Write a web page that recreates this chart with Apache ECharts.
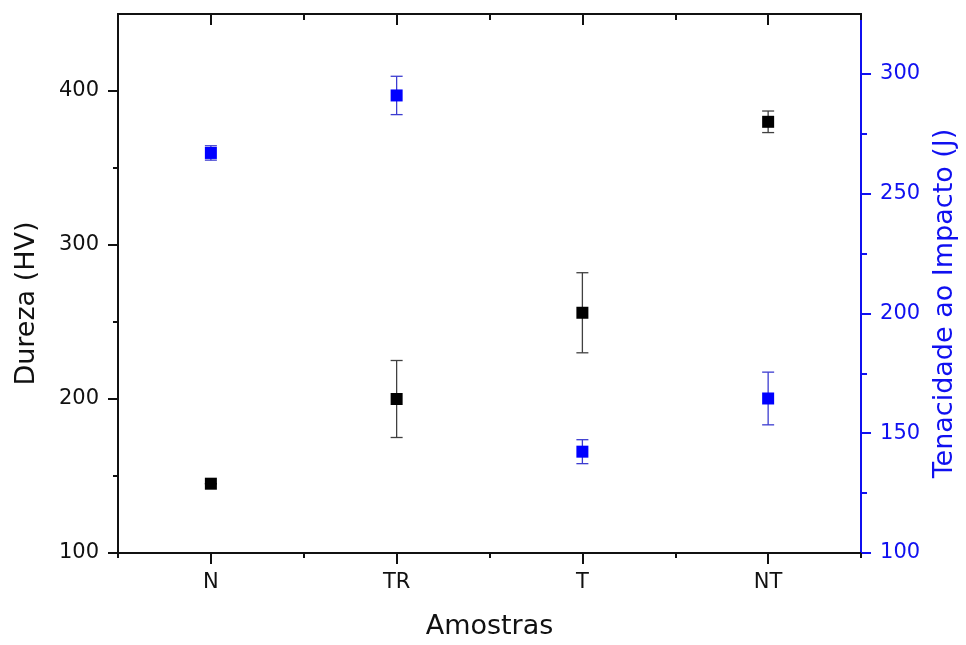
<!DOCTYPE html>
<html>
<head>
<meta charset="utf-8">
<script src="https://cdn.jsdelivr.net/npm/echarts@6/dist/echarts.min.js"></script>
<style>html,body{margin:0;padding:0;background:#fff;}#c{width:966px;height:645px;}</style>
</head>
<body>
<div id="c"></div>
<script>
const categories = ['N', 'TR', 'T', 'NT'];
const durezaMean = [145, 200, 256, 380];
const durezaErr = [0, 25, 26, 7];
const tenacidadeMean = [267, 291, 142.3, 164.5];
const tenacidadeErr = [3, 8, 5, 11];
const leftTicks = [100, 200, 300, 400];
const rightTicks = [100, 150, 200, 250, 300];

const FONT = 'DejaVu Sans';
const BLACK = '#111111';
const BLUE = '#1010f0';

const chart = echarts.init(document.getElementById('c'), null, {renderer: 'canvas'});

function errData(mean, err) {
  return mean.map((m, i) => [categories[i], m - err[i], m + err[i]]);
}
function errRender(color) {
  return function (params, api) {
    const x = api.value(0);
    const lo = api.coord([x, api.value(1)]);
    const hi = api.coord([x, api.value(2)]);
    const w = 6;
    const style = {stroke: color, lineWidth: 1.3};
    return {
      type: 'group',
      children: [
        {type: 'line', shape: {x1: lo[0], y1: lo[1], x2: hi[0], y2: hi[1]}, style},
        {type: 'line', shape: {x1: lo[0] - w, y1: lo[1], x2: lo[0] + w, y2: lo[1]}, style},
        {type: 'line', shape: {x1: hi[0] - w, y1: hi[1], x2: hi[0] + w, y2: hi[1]}, style}
      ]
    };
  };
}

const baseX = {
  type: 'category',
  data: categories,
  boundaryGap: true,
  axisLine: {show: true, lineStyle: {color: BLACK, width: 2}},
  splitLine: {show: false}
};

const option = {
  backgroundColor: '#ffffff',
  animation: false,
  grid: {left: 118, right: 103, top: 14, bottom: 86, containLabel: false},
  xAxis: [
    Object.assign({}, baseX, {
      position: 'bottom',
      name: 'Amostras',
      nameLocation: 'middle',
      nameGap: 60,
      nameTextStyle: {fontFamily: FONT, fontSize: 27, color: BLACK},
      axisTick: {show: true, alignWithLabel: true, length: 11, lineStyle: {color: BLACK, width: 2}},
      axisLabel: {show: true, margin: 19, fontFamily: FONT, fontSize: 21, color: BLACK}
    }),
    Object.assign({}, baseX, {
      position: 'bottom',
      axisTick: {show: true, alignWithLabel: false, length: 5, lineStyle: {color: BLACK, width: 2}},
      axisLabel: {show: false}
    }),
    Object.assign({}, baseX, {
      position: 'top',
      axisTick: {show: true, inside: true, alignWithLabel: true, length: 11, lineStyle: {color: BLACK, width: 2}},
      axisLabel: {show: false}
    }),
    Object.assign({}, baseX, {
      position: 'top',
      axisTick: {show: true, inside: true, alignWithLabel: false, length: 6, lineStyle: {color: BLACK, width: 2}},
      axisLabel: {show: false}
    })
  ],
  yAxis: [
    {
      type: 'value',
      position: 'left',
      min: 100,
      max: 450,
      interval: 100,
      name: 'Dureza (HV)',
      nameLocation: 'middle',
      nameGap: 78,
      nameTextStyle: {fontFamily: FONT, fontSize: 27, color: BLACK, padding: [0, 40, 0, 0]},
      axisLine: {show: true, lineStyle: {color: BLACK, width: 2}},
      axisTick: {show: true, length: 10, customValues: leftTicks, lineStyle: {color: BLACK, width: 2}},
      minorTick: {show: true, splitNumber: 2, length: 5, lineStyle: {color: BLACK, width: 2}},
      axisLabel: {margin: 19, fontFamily: FONT, fontSize: 21, color: BLACK, customValues: leftTicks,
        formatter: v => (leftTicks.indexOf(v) >= 0 ? String(v) : '')},
      splitLine: {show: false}
    },
    {
      type: 'value',
      position: 'right',
      min: 100,
      max: 325,
      interval: 50,
      name: 'Tenacidade ao Impacto (J)',
      nameLocation: 'middle',
      nameGap: 66,
      nameTextStyle: {fontFamily: FONT, fontSize: 27, color: BLUE, padding: [0, 40, 0, 0]},
      axisLine: {show: true, lineStyle: {color: BLUE, width: 2}},
      axisTick: {show: true, length: 10, customValues: rightTicks, lineStyle: {color: BLUE, width: 2}},
      minorTick: {show: true, splitNumber: 2, length: 6, lineStyle: {color: BLUE, width: 2}},
      axisLabel: {margin: 19, fontFamily: FONT, fontSize: 21, color: BLUE, customValues: rightTicks,
        formatter: v => (rightTicks.indexOf(v) >= 0 ? String(v) : '')},
      splitLine: {show: false}
    }
  ],
  series: [
    {
      type: 'custom',
      xAxisIndex: 0, yAxisIndex: 0,
      renderItem: errRender('#404040'),
      data: errData(durezaMean, durezaErr),
      z: 2, silent: true
    },
    {
      type: 'custom',
      xAxisIndex: 0, yAxisIndex: 1,
      renderItem: errRender('#3c3cd0'),
      data: errData(tenacidadeMean, tenacidadeErr),
      z: 2, silent: true
    },
    {
      type: 'scatter',
      xAxisIndex: 0, yAxisIndex: 0,
      symbol: 'rect', symbolSize: 12,
      itemStyle: {color: '#000000', opacity: 1},
      data: durezaMean.map((v, i) => [categories[i], v]),
      z: 5
    },
    {
      type: 'scatter',
      xAxisIndex: 0, yAxisIndex: 1,
      symbol: 'rect', symbolSize: 12,
      itemStyle: {color: '#0000ff', opacity: 1},
      data: tenacidadeMean.map((v, i) => [categories[i], v]),
      z: 5
    }
  ]
};
chart.setOption(option);
</script>
</body>
</html>
